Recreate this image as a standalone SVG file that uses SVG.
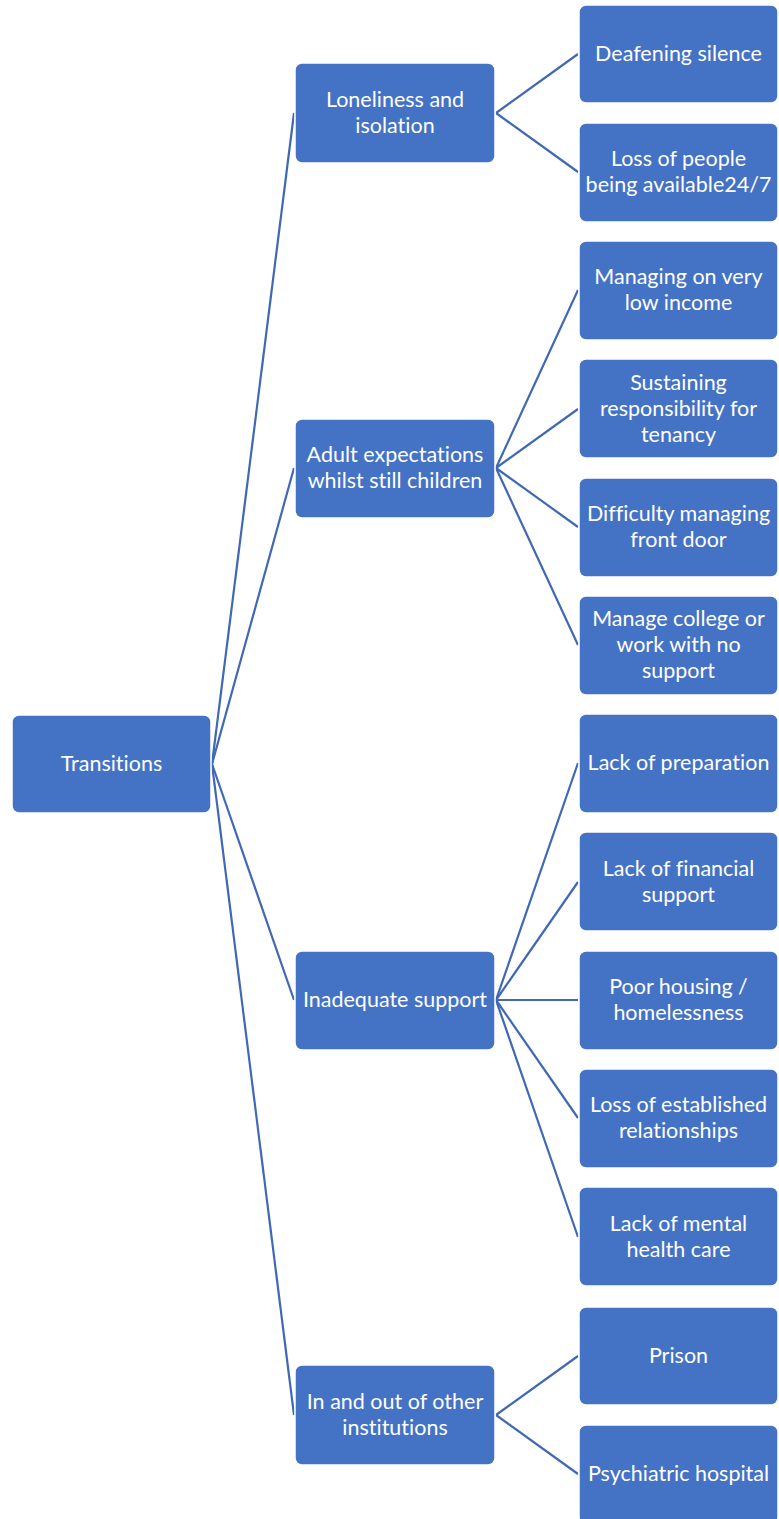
<svg xmlns="http://www.w3.org/2000/svg" width="779" height="1519" viewBox="0 0 779 1519">
  <style>
    .box { fill: #4472C4; stroke: #ffffff; stroke-width: 1.5; }
    .lbl { font-family: Lato, "Open Sans", "Liberation Sans", sans-serif; font-size: 21.5px; fill: #ffffff; text-anchor: middle; font-variant-ligatures: none; }
    .conn { stroke: #4068B4; stroke-width: 2.2; fill: none; }
  </style>
  <rect width="779" height="1519" fill="#ffffff"/>

  <!-- connectors -->
  <g id="connectors">
    <!-- root to level 1 -->
    <line class="conn" x1="212" y1="764" x2="294" y2="113"/>
    <line class="conn" x1="212" y1="764" x2="294" y2="468"/>
    <line class="conn" x1="212" y1="764" x2="294" y2="1000"/>
    <line class="conn" x1="212" y1="764" x2="294" y2="1415"/>
    <!-- loneliness branch -->
    <line class="conn" x1="496" y1="113" x2="578" y2="54"/>
    <line class="conn" x1="496" y1="113" x2="578" y2="172"/>
    <!-- adult expectations branch -->
    <line class="conn" x1="496" y1="468" x2="578" y2="290"/>
    <line class="conn" x1="496" y1="468" x2="578" y2="409"/>
    <line class="conn" x1="496" y1="468" x2="578" y2="527"/>
    <line class="conn" x1="496" y1="468" x2="578" y2="645"/>
    <!-- inadequate support branch -->
    <line class="conn" x1="496" y1="1000" x2="578" y2="763"/>
    <line class="conn" x1="496" y1="1000" x2="578" y2="882"/>
    <line class="conn" x1="496" y1="1000" x2="578" y2="1000"/>
    <line class="conn" x1="496" y1="1000" x2="578" y2="1118"/>
    <line class="conn" x1="496" y1="1000" x2="578" y2="1237"/>
    <!-- institutions branch -->
    <line class="conn" x1="496" y1="1415" x2="578" y2="1356"/>
    <line class="conn" x1="496" y1="1415" x2="578" y2="1474"/>
  </g>

  <!-- root -->
  <g id="n-transitions">
    <rect class="box" x="12" y="715" width="199" height="98" rx="7"/>
    <text class="lbl" x="111.5" y="771">Transitions</text>
  </g>

  <!-- level 1 -->
  <g id="n-loneliness">
    <rect class="box" x="295" y="63" width="200" height="100" rx="7"/>
    <text class="lbl" x="395" y="107">Loneliness and</text>
    <text class="lbl" x="395" y="133">isolation</text>
  </g>
  <g id="n-adult">
    <rect class="box" x="295" y="419" width="200" height="99" rx="7"/>
    <text class="lbl" x="395" y="462">Adult expectations</text>
    <text class="lbl" x="395" y="488">whilst still children</text>
  </g>
  <g id="n-inadequate">
    <rect class="box" x="295" y="951" width="200" height="99" rx="7"/>
    <text class="lbl" x="395" y="1007">Inadequate support</text>
  </g>
  <g id="n-institutions">
    <rect class="box" x="295" y="1365" width="200" height="100" rx="7"/>
    <text class="lbl" x="395" y="1409">In and out of other</text>
    <text class="lbl" x="395" y="1435">institutions</text>
  </g>

  <!-- level 2 -->
  <g id="n-deafening">
    <rect class="box" x="579" y="5" width="199" height="98" rx="7"/>
    <text class="lbl" x="678.5" y="61">Deafening silence</text>
  </g>
  <g id="n-loss-people">
    <rect class="box" x="579" y="123" width="199" height="99" rx="7"/>
    <text class="lbl" x="678.5" y="166">Loss of people</text>
    <text class="lbl" x="678.5" y="192">being available24/7</text>
  </g>
  <g id="n-low-income">
    <rect class="box" x="579" y="241" width="199" height="99" rx="7"/>
    <text class="lbl" x="678.5" y="284">Managing on very</text>
    <text class="lbl" x="678.5" y="310">low income</text>
  </g>
  <g id="n-tenancy">
    <rect class="box" x="579" y="359" width="199" height="99" rx="7"/>
    <text class="lbl" x="678.5" y="390">Sustaining</text>
    <text class="lbl" x="678.5" y="416">responsibility for</text>
    <text class="lbl" x="678.5" y="442">tenancy</text>
  </g>
  <g id="n-front-door">
    <rect class="box" x="579" y="478" width="199" height="99" rx="7"/>
    <text class="lbl" x="678.5" y="521">Difficulty managing</text>
    <text class="lbl" x="678.5" y="547">front door</text>
  </g>
  <g id="n-college">
    <rect class="box" x="579" y="596" width="199" height="99" rx="7"/>
    <text class="lbl" x="678.5" y="626">Manage college or</text>
    <text class="lbl" x="678.5" y="652">work with no</text>
    <text class="lbl" x="678.5" y="678">support</text>
  </g>
  <g id="n-preparation">
    <rect class="box" x="579" y="714" width="199" height="99" rx="7"/>
    <text class="lbl" x="678.5" y="770">Lack of preparation</text>
  </g>
  <g id="n-financial">
    <rect class="box" x="579" y="832" width="199" height="99" rx="7"/>
    <text class="lbl" x="678.5" y="876">Lack of financial</text>
    <text class="lbl" x="678.5" y="902">support</text>
  </g>
  <g id="n-housing">
    <rect class="box" x="579" y="951" width="199" height="99" rx="7"/>
    <text class="lbl" x="678.5" y="994">Poor housing /</text>
    <text class="lbl" x="678.5" y="1020">homelessness</text>
  </g>
  <g id="n-relationships">
    <rect class="box" x="579" y="1069" width="199" height="99" rx="7"/>
    <text class="lbl" x="678.5" y="1112">Loss of established</text>
    <text class="lbl" x="678.5" y="1138">relationships</text>
  </g>
  <g id="n-mental-health">
    <rect class="box" x="579" y="1187" width="199" height="99" rx="7"/>
    <text class="lbl" x="678.5" y="1231">Lack of mental</text>
    <text class="lbl" x="678.5" y="1257">health care</text>
  </g>
  <g id="n-prison">
    <rect class="box" x="579" y="1307" width="199" height="98" rx="7"/>
    <text class="lbl" x="678.5" y="1363">Prison</text>
  </g>
  <g id="n-hospital">
    <rect class="box" x="579" y="1425" width="199" height="99" rx="7"/>
    <text class="lbl" x="678.5" y="1481">Psychiatric hospital</text>
  </g>
</svg>
